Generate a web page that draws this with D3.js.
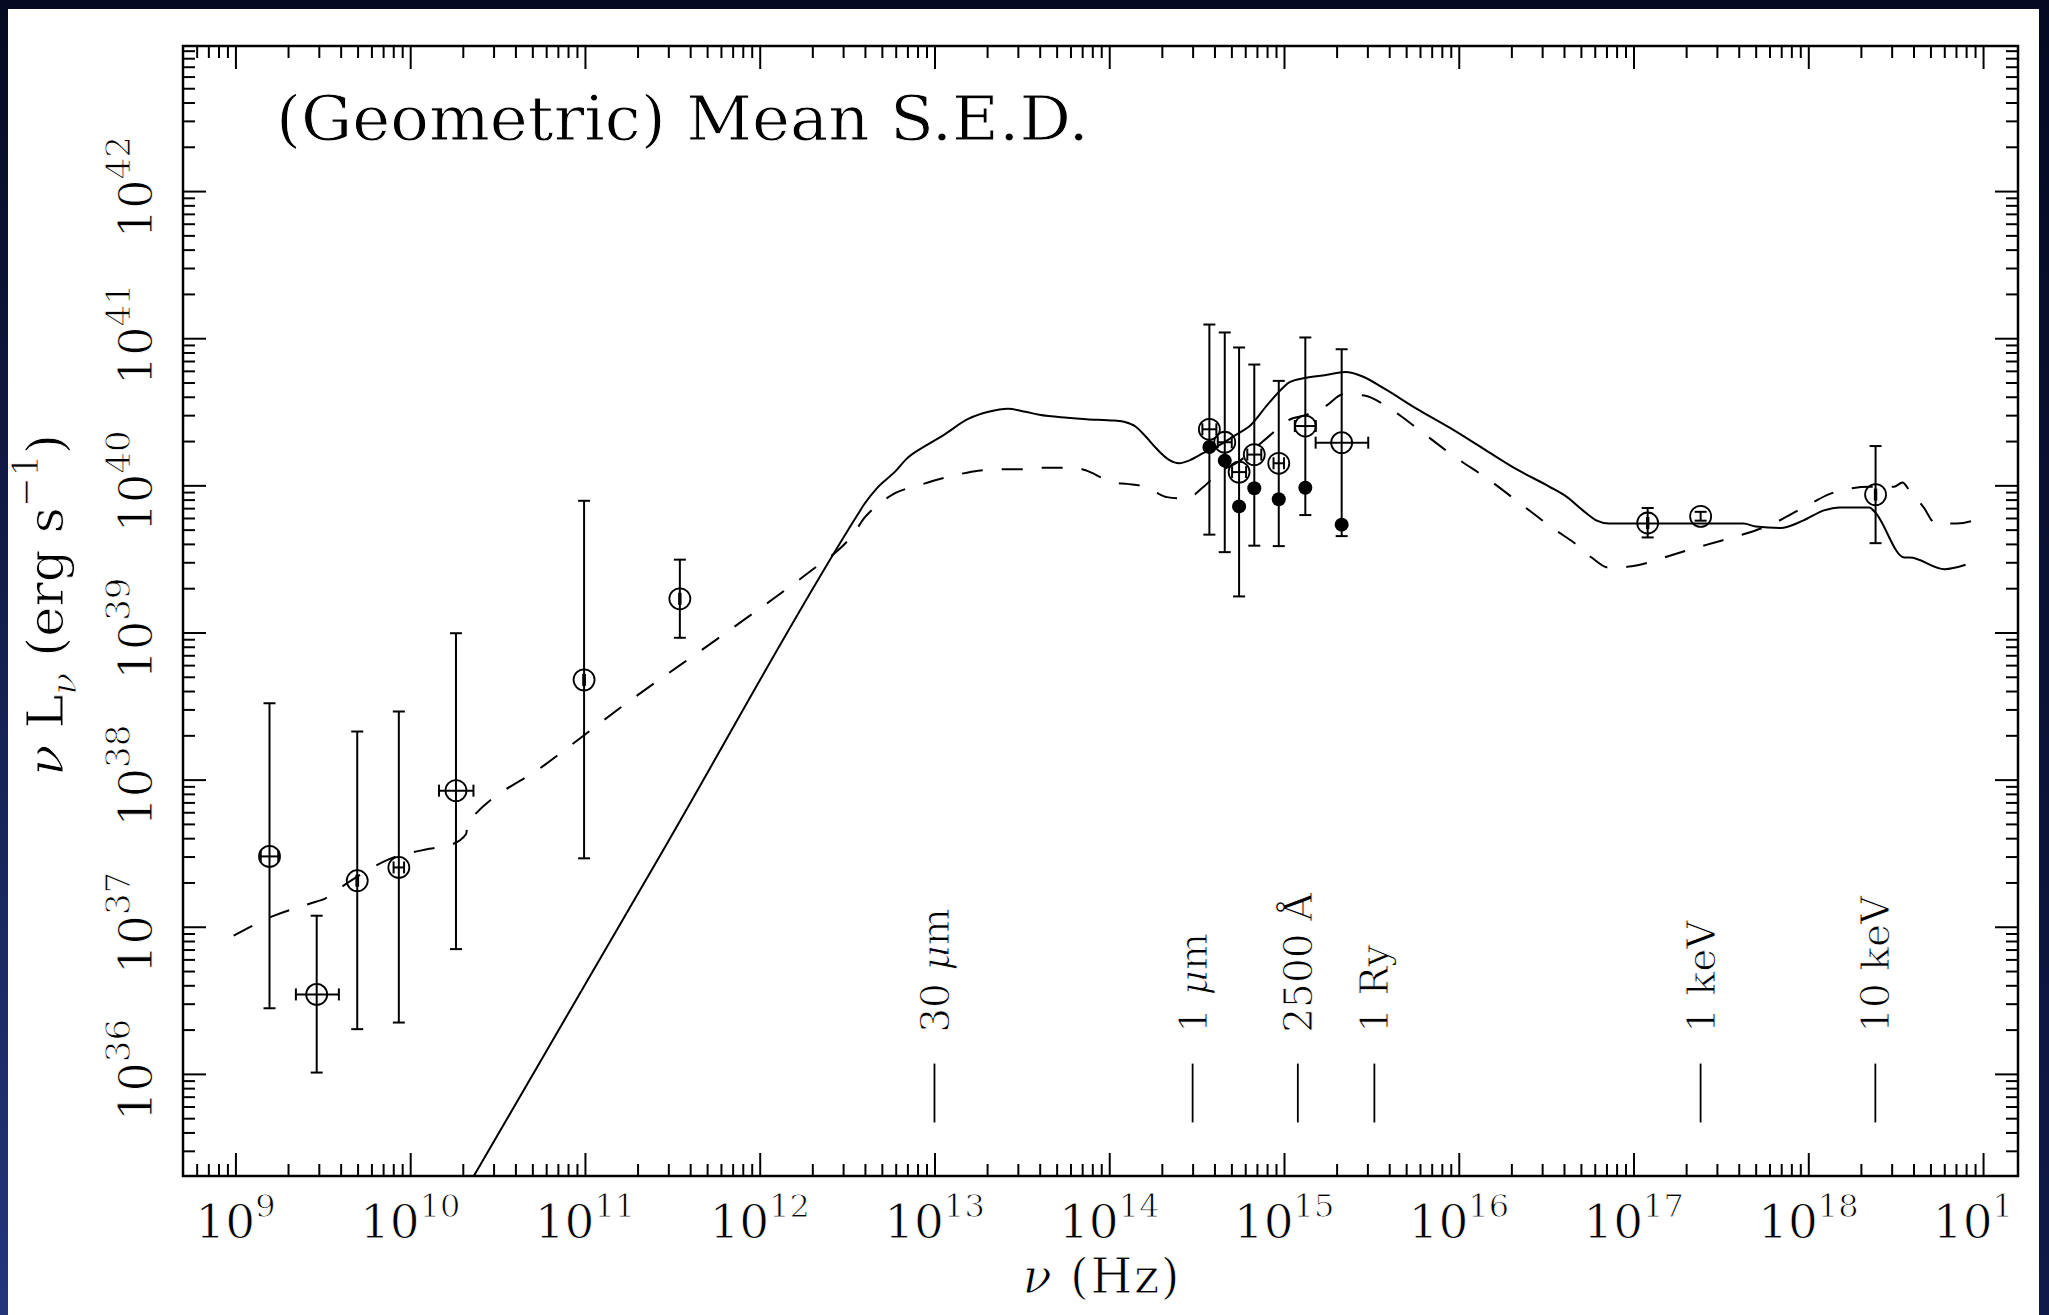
<!DOCTYPE html>
<html>
<head>
<meta charset="utf-8">
<script src="https://cdn.jsdelivr.net/npm/d3@7"></script>
<style>
html, body { margin: 0; padding: 0; background: #ffffff; }
svg { display: block; }
text { font-family: "DejaVu Serif", serif; fill: #000; stroke: #fff; stroke-width: 0.9px; }
</style>
</head>
<body>
<svg id="chart" width="2049" height="1315"></svg>
<script>
// ---------------- DATA (log10 values) ----------------
// x-axis decade exponents (labelled), y-axis decade exponents (labelled)
const xTickExp = [9, 10, 11, 12, 13, 14, 15, 16, 17, 18, 19];
const yTickExp = [36, 37, 38, 39, 40, 41, 42];

// Open-circle data points: log nu, log nuLnu, error limits
const ptLogNu   = [9.195, 9.465, 9.697, 9.935, 10.262, 10.995, 11.543, 14.573, 14.661, 14.743, 14.830, 14.970, 15.122, 15.330, 17.081, 17.384, 18.385];
const ptLogL    = [37.478, 36.540, 37.313, 37.403, 37.925, 38.678, 39.229, 40.381, 40.293, 40.090, 40.209, 40.150, 40.403, 40.290, 39.744, 39.789, 39.937];
const ptLogLLo  = [36.446, 36.009, 36.304, 36.349, 36.848, 37.465, 38.964, 39.665, 39.546, 39.245, 39.590, 39.587, 39.798, 39.655, 39.646, 39.760, 39.607];
const ptLogLHi  = [38.519, 37.075, 38.327, 38.463, 38.995, 39.895, 39.495, 41.093, 41.039, 40.937, 40.821, 40.710, 41.005, 40.925, 39.846, 39.820, 40.267];
const ptLogNuLo = [9.145, 9.346, 9.692, 9.905, 10.165, 10.990, 11.539, 14.533, 14.621, 14.703, 14.790, 14.940, 15.062, 15.181, 17.077, 17.384, 18.381];
const ptLogNuHi = [9.245, 9.592, 9.702, 9.965, 10.362, 11.000, 11.547, 14.613, 14.701, 14.783, 14.870, 15.000, 15.182, 15.482, 17.085, 17.384, 18.389];

// Filled dots (IR/optical cluster)
const dotLogNu = [14.573, 14.661, 14.743, 14.830, 14.970, 15.122, 15.330];
const dotLogL  = [40.261, 40.168, 39.857, 39.980, 39.906, 39.984, 39.733];

// Solid SED curve
const solidLogNu = [10.30, 11.46, 12.56, 12.60, 12.67, 12.78, 12.84, 12.95, 13.05, 13.19, 13.31, 13.42, 13.52, 13.60, 13.76, 13.87, 14.03, 14.09, 14.15, 14.21, 14.27, 14.34, 14.40, 14.46, 14.54, 14.64, 14.72, 14.81, 14.90, 15.00, 15.03, 15.12, 15.24, 15.35, 15.45, 15.57, 15.76, 15.95, 16.14, 16.33, 16.52, 16.62, 16.71, 16.79, 16.86, 17.38, 17.63, 17.70, 17.84, 17.97, 18.09, 18.18, 18.35, 18.38, 18.55, 18.58, 18.78, 18.90];
const solidLogL  = [35.175, 37.546, 39.80, 39.875, 39.98, 40.10, 40.18, 40.27, 40.34, 40.45, 40.50, 40.52, 40.50, 40.48, 40.46, 40.45, 40.44, 40.43, 40.40, 40.33, 40.25, 40.175, 40.15, 40.17, 40.22, 40.28, 40.34, 40.41, 40.54, 40.67, 40.70, 40.73, 40.75, 40.77, 40.74, 40.66, 40.52, 40.39, 40.25, 40.11, 39.99, 39.92, 39.83, 39.76, 39.74, 39.74, 39.74, 39.72, 39.71, 39.76, 39.83, 39.85, 39.85, 39.82, 39.51, 39.51, 39.43, 39.46];

// Dashed SED curve
const dashLogNu = [8.99, 9.21, 9.46, 9.51, 9.57, 9.67, 9.88, 10.11, 10.24, 10.32, 10.33, 10.36, 10.77, 11.25, 11.75, 12.25, 12.35, 12.45, 12.53, 12.60, 12.69, 12.78, 12.91, 13.02, 13.14, 13.25, 13.39, 13.50, 13.63, 13.74, 13.80, 13.87, 13.98, 14.03, 14.10, 14.21, 14.27, 14.33, 14.44, 14.54, 14.63, 14.74, 14.83, 14.93, 15.02, 15.13, 15.24, 15.34, 15.46, 15.57, 15.67, 15.77, 15.97, 16.17, 16.37, 16.56, 16.66, 16.76, 16.86, 16.99, 17.23, 17.34, 17.46, 17.58, 17.69, 17.80, 17.91, 18.02, 18.12, 18.25, 18.35, 18.49, 18.54, 18.57, 18.66, 18.73, 18.85, 18.97];
const dashLogL  = [36.94, 37.07, 37.17, 37.19, 37.24, 37.32, 37.46, 37.53, 37.56, 37.63, 37.71, 37.75, 38.10, 38.53, 38.95, 39.38, 39.47, 39.56, 39.66, 39.78, 39.88, 39.95, 40.00, 40.04, 40.075, 40.10, 40.11, 40.11, 40.12, 40.12, 40.12, 40.10, 40.04, 40.02, 40.01, 39.99, 39.95, 39.92, 39.91, 39.99, 40.09, 40.16, 40.25, 40.35, 40.44, 40.48, 40.54, 40.62, 40.61, 40.55, 40.47, 40.38, 40.20, 40.04, 39.86, 39.69, 39.61, 39.51, 39.44, 39.45, 39.53, 39.57, 39.61, 39.65, 39.69, 39.74, 39.81, 39.88, 39.94, 39.98, 39.99, 39.99, 40.02, 39.98, 39.85, 39.74, 39.74, 39.77];

// Reference frequency markers
const markerLabels = ["30 μm", "1 μm", "2500 Å", "1 Ry", "1 keV", "10 keV"];
const markerNu     = [1e13, 3e14, 1.2e15, 3.29e15, 2.42e17, 2.42e18];
const markerLineLogL = [35.67, 36.07];   // extent of marker ticks (in y units)
const markerTextLogL = 36.28;            // start of marker labels (in y units)

const titleText = "(Geometric) Mean S.E.D.";

// ---------------- LAYOUT ----------------
const W = 2049, H = 1315;
const M = { left: 183, right: 2018, top: 46, bottom: 1176 };

const x = d3.scaleLog().domain([10 ** 8.70, 10 ** 19.2]).range([M.left, M.right]);
const y = d3.scaleLog().domain([10 ** 35.306, 10 ** 42.986]).range([M.bottom, M.top]);

const svg = d3.select("#chart");
const defs = svg.append("defs");
defs.append("clipPath").attr("id", "plotClip").append("rect")
  .attr("x", M.left).attr("y", M.top).attr("width", M.right - M.left).attr("height", M.bottom - M.top);
defs.append("clipPath").attr("id", "labelClip").append("rect")
  .attr("x", 0).attr("y", 0).attr("width", 2013).attr("height", H);

const lg = defs.append("linearGradient").attr("id", "leftGrad").attr("x1", 0).attr("y1", 0).attr("x2", 0).attr("y2", 1);
lg.append("stop").attr("offset", "0%").attr("stop-color", "#050a22");
lg.append("stop").attr("offset", "100%").attr("stop-color", "#23367c");
const rg = defs.append("linearGradient").attr("id", "rightGrad").attr("x1", 0).attr("y1", 0).attr("x2", 0).attr("y2", 1);
rg.append("stop").attr("offset", "0%").attr("stop-color", "#050a22");
rg.append("stop").attr("offset", "100%").attr("stop-color", "#101a48");

svg.append("rect").attr("width", W).attr("height", H).attr("fill", "#fff");

// ---------------- TICKS ----------------
const xd = x.domain(), yd = y.domain();
const majorX = [], minorX = [], majorY = [], minorY = [];
for (let e = 8; e <= 19; e++) {
  const v = 10 ** e;
  if (v >= xd[0] && v <= xd[1]) majorX.push(v);
  for (let k = 2; k <= 9; k++) { const m = k * 10 ** e; if (m >= xd[0] && m <= xd[1]) minorX.push(m); }
}
for (let e = 35; e <= 42; e++) {
  const v = 10 ** e;
  if (v >= yd[0] && v <= yd[1]) majorY.push(v);
  for (let k = 2; k <= 9; k++) { const m = k * 10 ** e; if (m >= yd[0] && m <= yd[1]) minorY.push(m); }
}

function drawAxis(axisFn, tx, ty, values, size) {
  const g = svg.append("g").attr("transform", `translate(${tx},${ty})`)
    .call(axisFn.tickValues(values).tickSize(size).tickSizeOuter(0).tickFormat(""));
  g.select(".domain").remove();
  g.selectAll(".tick line").attr("stroke", "#000").attr("stroke-width", 2);
  return g;
}
const MAJ = -23, MIN = -12;
drawAxis(d3.axisBottom(x), 0, M.bottom, majorX, MAJ);
drawAxis(d3.axisBottom(x), 0, M.bottom, minorX, MIN);
drawAxis(d3.axisTop(x), 0, M.top, majorX, MAJ);
drawAxis(d3.axisTop(x), 0, M.top, minorX, MIN);
drawAxis(d3.axisLeft(y), M.left, 0, majorY, MAJ);
drawAxis(d3.axisLeft(y), M.left, 0, minorY, MIN);
drawAxis(d3.axisRight(y), M.right, 0, majorY, MAJ);
drawAxis(d3.axisRight(y), M.right, 0, minorY, MIN);

// bottom labels 10^n
const labelLayer = svg.append("g").attr("clip-path", "url(#labelClip)");
xTickExp.forEach(e => {
  const t = labelLayer.append("text")
    .attr("x", x(10 ** e)).attr("y", 1238)
    .attr("text-anchor", "middle").attr("font-size", 47);
  t.append("tspan").text("10");
  t.append("tspan").attr("font-size", 32).attr("dy", -21).text(String(e));
});
// left labels 10^n (rotated)
yTickExp.forEach(e => {
  const g = svg.append("g").attr("transform", `translate(152,${y(10 ** e) - 4}) rotate(-90)`);
  const t = g.append("text").attr("x", 0).attr("y", 0).attr("text-anchor", "middle").attr("font-size", 46);
  t.append("tspan").text("10");
  t.append("tspan").attr("font-size", 34).attr("dy", -22).text(String(e));
});

// ---------------- FRAME ----------------
svg.append("rect").attr("x", M.left).attr("y", M.top)
  .attr("width", M.right - M.left).attr("height", M.bottom - M.top)
  .attr("fill", "none").attr("stroke", "#000").attr("stroke-width", 2.5);

// ---------------- CURVES ----------------
const plot = svg.append("g").attr("clip-path", "url(#plotClip)");
const line = d3.line().x(d => x(10 ** d[0])).y(d => y(10 ** d[1])).curve(d3.curveMonotoneX);
const solid = solidLogNu.map((v, i) => [v, solidLogL[i]]);
const dashed = dashLogNu.map((v, i) => [v, dashLogL[i]]);
plot.append("path").attr("d", line(solid)).attr("fill", "none").attr("stroke", "#000").attr("stroke-width", 2);
plot.append("path").attr("d", line(dashed)).attr("fill", "none").attr("stroke", "#000").attr("stroke-width", 2)
  .attr("stroke-dasharray", "21,19");

// ---------------- ERROR BARS & POINTS ----------------
const CAP = 6;
const eb = plot.append("g").attr("stroke", "#000").attr("stroke-width", 2).attr("fill", "none");
ptLogNu.forEach((ln, i) => {
  const cx = x(10 ** ln), cy = y(10 ** ptLogL[i]);
  const yl = y(10 ** ptLogLLo[i]), yh = y(10 ** ptLogLHi[i]);
  eb.append("line").attr("x1", cx).attr("x2", cx).attr("y1", yl).attr("y2", yh);
  eb.append("line").attr("x1", cx - CAP).attr("x2", cx + CAP).attr("y1", yl).attr("y2", yl);
  eb.append("line").attr("x1", cx - CAP).attr("x2", cx + CAP).attr("y1", yh).attr("y2", yh);
  if (ptLogNuHi[i] > ptLogNuLo[i]) {
    const xl = x(10 ** ptLogNuLo[i]), xh = x(10 ** ptLogNuHi[i]);
    eb.append("line").attr("x1", xl).attr("x2", xh).attr("y1", cy).attr("y2", cy);
    eb.append("line").attr("x1", xl).attr("x2", xl).attr("y1", cy - CAP).attr("y2", cy + CAP);
    eb.append("line").attr("x1", xh).attr("x2", xh).attr("y1", cy - CAP).attr("y2", cy + CAP);
  }
});
plot.append("g").selectAll("circle").data(ptLogNu).join("circle")
  .attr("cx", d => x(10 ** d)).attr("cy", (d, i) => y(10 ** ptLogL[i]))
  .attr("r", 10.5).attr("fill", "none").attr("stroke", "#000").attr("stroke-width", 1.8);
plot.append("g").selectAll("circle").data(dotLogNu).join("circle")
  .attr("cx", d => x(10 ** d)).attr("cy", (d, i) => y(10 ** dotLogL[i]))
  .attr("r", 7).attr("fill", "#000");

// ---------------- FREQUENCY MARKERS ----------------
markerNu.forEach((nu, i) => {
  const mx = x(nu);
  svg.append("line").attr("x1", mx).attr("x2", mx)
    .attr("y1", y(10 ** markerLineLogL[0])).attr("y2", y(10 ** markerLineLogL[1]))
    .attr("stroke", "#000").attr("stroke-width", 1.8);
  const g = svg.append("g").attr("transform", `translate(${mx},${y(10 ** markerTextLogL)}) rotate(-90)`);
  const t = g.append("text").attr("x", 0).attr("y", 0).attr("dy", "0.36em").attr("font-size", 39).attr("text-anchor", "start");
  const lab = markerLabels[i];
  if (lab.includes("μ")) {
    const parts = lab.split("μ");
    t.append("tspan").text(parts[0]);
    t.append("tspan").attr("font-style", "italic").text("μ");
    t.append("tspan").text(parts[1]);
  } else {
    t.text(lab);
  }
});

// ---------------- TITLES ----------------
svg.append("text").attr("x", 276).attr("y", 140).attr("font-size", 62)
  .attr("textLength", 813).attr("lengthAdjust", "spacingAndGlyphs").text(titleText);

const xl = svg.append("text").attr("x", 1101).attr("y", 1293).attr("text-anchor", "middle").attr("font-size", 48)
  .attr("textLength", 157).attr("lengthAdjust", "spacing");
xl.append("tspan").attr("font-style", "italic").text("ν");
xl.append("tspan").text(" (Hz)");

const yg = svg.append("g").attr("transform", "translate(63,605) rotate(-90)");
const yt = yg.append("text").attr("x", 0).attr("y", 0).attr("text-anchor", "middle").attr("font-size", 51);
yt.append("tspan").attr("font-style", "italic").text("ν");
yt.append("tspan").text(" L");
yt.append("tspan").attr("font-style", "italic").attr("font-size", 36).attr("dy", 13).text("ν");
yt.append("tspan").attr("dy", -13).text(" (erg s");
yt.append("tspan").attr("font-size", 36).attr("dy", -25).text("−1");
yt.append("tspan").attr("dy", 25).text(")");

// ---------------- SLIDE BORDER ----------------
svg.append("rect").attr("x", 0).attr("y", 0).attr("width", 8).attr("height", H).attr("fill", "url(#leftGrad)");
svg.append("rect").attr("x", 2039).attr("y", 0).attr("width", 10).attr("height", H).attr("fill", "url(#rightGrad)");
svg.append("rect").attr("x", 0).attr("y", 0).attr("width", W).attr("height", 9).attr("fill", "#050a22");
</script>
</body>
</html>
